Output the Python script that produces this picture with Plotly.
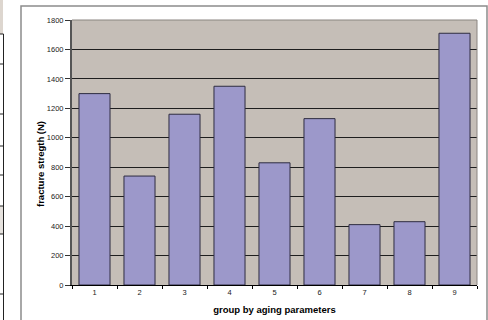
import plotly.graph_objects as go

# Fracture strength per aging group
groups = ["1", "2", "3", "4", "5", "6", "7", "8", "9"]
strength = [1300, 740, 1160, 1350, 830, 1130, 410, 430, 1710]
y_ticks = [0, 200, 400, 600, 800, 1000, 1200, 1400, 1600, 1800]

W, H = 488, 320
ML, MR, MT, MB = 72, 11, 20, 35
PW, PH = W - ML - MR, H - MT - MB


def px(x):
    return (x - ML) / PW


def py(y):
    return 1 - (y - MT) / PH


fig = go.Figure(
    go.Bar(
        x=groups,
        y=strength,
        marker=dict(color="#9c98ca", line=dict(color="#2e2c40", width=1)),
        width=0.69,
    )
)

shapes = []
# outer chart frame
shapes.append(dict(type="rect", xref="paper", yref="paper",
                   x0=px(21), x1=px(487), y0=py(330), y1=py(6),
                   line=dict(color="#8c8c8c", width=1.5), layer="below"))
# plot-area outline (top / right)
shapes.append(dict(type="line", xref="paper", yref="paper",
                   x0=0, x1=1, y0=1, y1=1,
                   line=dict(color="#8a8580", width=1)))
shapes.append(dict(type="line", xref="paper", yref="paper",
                   x0=1, x1=1, y0=0, y1=1,
                   line=dict(color="#8a8580", width=1)))
# edge of the neighbouring chart on the left
shapes.append(dict(type="rect", xref="paper", yref="paper",
                   x0=px(0), x1=px(3), y0=py(34), y1=py(0),
                   fillcolor="#ddd6cf", line=dict(width=0)))
shapes.append(dict(type="rect", xref="paper", yref="paper",
                   x0=px(0), x1=px(3), y0=py(234), y1=py(206),
                   fillcolor="#e6e2de", line=dict(width=0)))
shapes.append(dict(type="line", xref="paper", yref="paper",
                   x0=px(3.5), x1=px(3.5), y0=py(320), y1=py(34),
                   line=dict(color="#222", width=1)))
for yy in [34, 64, 114, 146, 175, 206, 234, 294]:
    shapes.append(dict(type="line", xref="paper", yref="paper",
                       x0=px(0), x1=px(3.5), y0=py(yy), y1=py(yy),
                       line=dict(color="#222", width=1)))

# y-axis title placed as a rotated annotation
annotations = [dict(
    text="<b>fracture stregth (N)</b>", textangle=-90,
    xref="paper", yref="paper", x=px(40), y=py(164),
    xanchor="center", yanchor="middle", showarrow=False,
    font=dict(size=9.5, color="black"),
)]

fig.update_layout(
    width=W,
    height=H,
    margin=dict(l=ML, r=MR, t=MT, b=MB, autoexpand=False),
    paper_bgcolor="white",
    plot_bgcolor="#c5beb7",
    showlegend=False,
    bargap=0.31,
    shapes=shapes,
    annotations=annotations,
    font=dict(family="Liberation Sans, Arial, sans-serif", color="black"),
    xaxis=dict(
        type="category",
        automargin=False,
        tickson="boundaries",
        ticks="outside",
        ticklen=3,
        tickcolor="black",
        showline=True,
        linecolor="black",
        linewidth=1,
        showgrid=False,
        tickfont=dict(size=7.5, color="#222"),
        title=dict(text="<b>group by aging parameters</b>",
                   font=dict(size=9.5), standoff=10),
    ),
    yaxis=dict(
        automargin=False,
        range=[0, 1800],
        tickvals=y_ticks,
        ticks="outside",
        ticklen=5,
        tickcolor="#333",
        showline=True,
        linecolor="#555",
        linewidth=2,
        showgrid=True,
        gridcolor="#1e1e1e",
        gridwidth=1,
        zeroline=False,
        tickfont=dict(size=7.5, color="#222"),
    ),
)

fig.write_html("out.html")
